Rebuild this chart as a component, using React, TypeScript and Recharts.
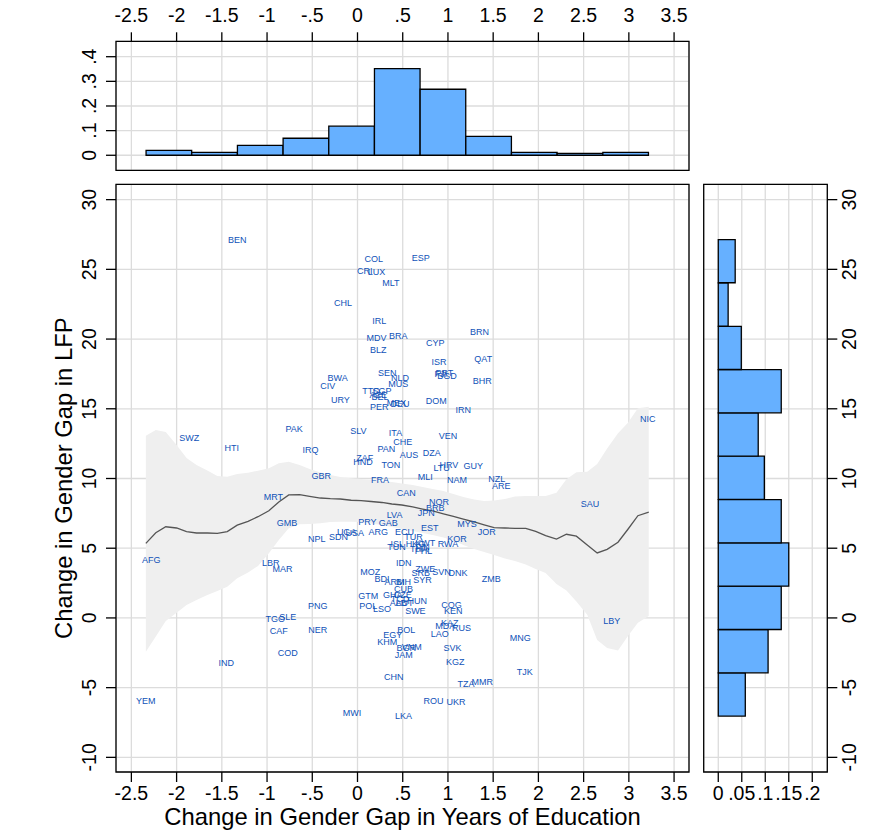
import React from "react";
import {
  ComposedChart, XAxis, YAxis, CartesianGrid, Bar, Area, Line, Scatter, ReferenceArea,
} from "recharts";

const W = 893;
const H = 838;
const FONT = "'Liberation Sans', Arial, sans-serif";
const GRID = "#dcdcdc";
const BAR = "#66b0ff";
const LABEL = "#0f52b8";

const xTicks = [-2.5, -2, -1.5, -1, -0.5, 0, 0.5, 1, 1.5, 2, 2.5, 3, 3.5];
const lfpTicks = [-10, -5, 0, 5, 10, 15, 20, 25, 30];
const topDensityTicks = [0, 0.1, 0.2, 0.3, 0.4];
const rightDensityTicks = [0, 0.05, 0.1, 0.15, 0.2];

const topBinCenters = [-2.085, -1.58, -1.075, -0.57, -0.065, 0.44, 0.945, 1.45, 1.955, 2.46, 2.965];
const topDensity = [0.02, 0.012, 0.04, 0.069, 0.118, 0.352, 0.268, 0.077, 0.012, 0.008, 0.012];

const rightBinCenters = [-5.495, -2.39, 0.715, 3.825, 6.935, 10.045, 13.15, 16.255, 19.365, 22.475, 25.585];
const rightDensity = [0.0575, 0.106, 0.134, 0.15, 0.134, 0.098, 0.085, 0.134, 0.049, 0.021, 0.036];

const smoothX = [-2.34, -2.23, -2.12, -2.0, -1.89, -1.78, -1.66, -1.55, -1.44, -1.33, -1.21, -1.1, -0.98, -0.87, -0.76, -0.64, -0.53, -0.41, -0.3, -0.19, -0.07, 0.04, 0.15, 0.27, 0.38, 0.49, 0.61, 0.72, 0.83, 0.95, 1.06, 1.17, 1.29, 1.4, 1.51, 1.63, 1.74, 1.86, 1.97, 2.08, 2.2, 2.31, 2.42, 2.54, 2.65, 2.76, 2.88, 2.99, 3.1, 3.22];
const smoothMean = [5.35, 6.11, 6.54, 6.45, 6.19, 6.09, 6.09, 6.07, 6.19, 6.65, 6.93, 7.26, 7.69, 8.32, 8.82, 8.84, 8.72, 8.6, 8.55, 8.53, 8.44, 8.42, 8.35, 8.28, 8.17, 8.1, 7.96, 7.81, 7.67, 7.46, 7.28, 7.08, 6.88, 6.67, 6.47, 6.45, 6.43, 6.42, 6.2, 5.91, 5.66, 6.0, 5.86, 5.23, 4.66, 4.92, 5.43, 6.36, 7.33, 7.58];
const smoothHigh = [13.07, 13.48, 13.33, 12.4, 11.47, 10.97, 10.57, 10.18, 10.13, 10.32, 10.42, 10.56, 10.73, 11.09, 11.2, 10.97, 10.68, 10.43, 10.25, 10.11, 10.01, 9.96, 9.89, 9.82, 9.75, 9.64, 9.53, 9.39, 9.25, 9.1, 8.89, 8.67, 8.49, 8.39, 8.42, 8.53, 8.71, 8.75, 8.75, 8.75, 8.98, 9.94, 10.44, 10.49, 11.04, 12.16, 13.24, 14.0, 15.03, 15.15];
const smoothLow = [-2.42, -1.34, -0.22, 0.38, 0.93, 1.29, 1.65, 1.94, 2.24, 2.85, 3.25, 3.73, 4.64, 5.59, 6.43, 6.72, 6.74, 6.79, 6.88, 6.9, 6.9, 6.88, 6.77, 6.67, 6.52, 6.38, 6.24, 6.09, 5.95, 5.77, 5.56, 5.23, 4.95, 4.73, 4.52, 4.27, 4.09, 3.84, 3.51, 3.23, 2.44, 1.97, 1.18, 0.22, -1.58, -2.15, -2.34, -1.29, -0.34, 0.14];

const countries: [string, number, number][] = [
  ["BEN", -1.33, 27.1], ["COL", 0.18, 25.71], ["ESP", 0.7, 25.78], ["CRI", 0.08, 24.85], ["LUX", 0.21, 24.78],
  ["MLT", 0.37, 23.99], ["CHL", -0.16, 22.56], ["IRL", 0.24, 21.27], ["BRN", 1.35, 20.48], ["MDV", 0.21, 20.05],
  ["BRA", 0.45, 20.19], ["CYP", 0.86, 19.69], ["BLZ", 0.23, 19.19], ["ISR", 0.9, 18.33], ["QAT", 1.39, 18.54],
  ["SEN", 0.33, 17.54], ["NLD", 0.47, 17.23], ["BWA", -0.22, 17.18], ["PRT", 0.96, 17.54], ["FJI", 0.92, 17.53],
  ["BGD", 0.99, 17.37], ["CIV", -0.33, 16.61], ["MUS", 0.45, 16.75], ["BHR", 1.38, 16.97], ["TTO", 0.15, 16.25],
  ["SGP", 0.27, 16.25], ["AZE", 0.23, 15.98], ["BEL", 0.25, 15.82], ["URY", -0.19, 15.61], ["MEX", 0.43, 15.41],
  ["DEU", 0.47, 15.32], ["DOM", 0.87, 15.53], ["PER", 0.24, 15.1], ["IRN", 1.17, 14.89], ["SLV", 0.01, 13.38],
  ["ITA", 0.42, 13.24], ["VEN", 1.0, 13.03], ["CHE", 0.5, 12.59], ["PAN", 0.32, 12.14], ["AUS", 0.57, 11.66],
  ["DZA", 0.82, 11.81], ["ZAF", 0.08, 11.49], ["HND", 0.06, 11.2], ["TON", 0.37, 10.95], ["HRV", 1.01, 10.99],
  ["LTU", 0.93, 10.77], ["GUY", 1.28, 10.87], ["MLI", 0.75, 10.13], ["FRA", 0.25, 9.87], ["NAM", 1.1, 9.87],
  ["NZL", 1.54, 9.99], ["ARE", 1.59, 9.48], ["CAN", 0.54, 8.94], ["NOR", 0.9, 8.29], ["BRB", 0.86, 7.91],
  ["JPN", 0.76, 7.55], ["LVA", 0.41, 7.41], ["MYS", 1.21, 6.72], ["PRY", 0.11, 6.86], ["GAB", 0.34, 6.79],
  ["EST", 0.8, 6.43], ["ECU", 0.52, 6.19], ["ARG", 0.23, 6.14], ["JOR", 1.43, 6.14], ["UGA", -0.12, 6.13],
  ["USA", -0.03, 6.09], ["SDN", -0.21, 5.78], ["TUR", 0.62, 5.83], ["KOR", 1.1, 5.64], ["ISL", 0.44, 5.3],
  ["TUN", 0.43, 5.11], ["KWT", 0.75, 5.4], ["HKG", 0.64, 5.3], ["FIN", 0.72, 5.07], ["PHL", 0.73, 4.82],
  ["THA", 0.68, 4.91], ["RWA", 1.0, 5.28], ["NPL", -0.45, 5.64], ["GMB", -0.78, 6.79], ["MRT", -0.93, 8.65],
  ["GBR", -0.4, 10.16], ["IRQ", -0.52, 12.06], ["PAK", -0.7, 13.53], ["HTI", -1.39, 12.16], ["SWZ", -1.86, 12.88],
  ["AFG", -2.28, 4.14], ["LBR", -0.96, 3.92], ["MAR", -0.83, 3.49], ["PNG", -0.44, 0.84], ["TGO", -0.91, -0.09],
  ["SLE", -0.77, 0.05], ["CAF", -0.87, -0.95], ["NER", -0.44, -0.88], ["COD", -0.77, -2.53], ["IND", -1.45, -3.25],
  ["YEM", -2.34, -5.97], ["IDN", 0.51, 3.92], ["ZWE", 0.75, 3.51], ["SRB", 0.7, 3.25], ["SVN", 0.93, 3.3],
  ["DNK", 1.11, 3.25], ["MOZ", 0.14, 3.32], ["ZMB", 1.48, 2.77], ["BDI", 0.27, 2.77], ["ARM", 0.41, 2.56],
  ["BIH", 0.51, 2.58], ["SYR", 0.72, 2.7], ["CUB", 0.51, 2.1], ["GTM", 0.12, 1.56], ["GHA", 0.39, 1.63],
  ["CZE", 0.5, 1.63], ["COG", 1.04, 0.95], ["HUN", 0.66, 1.2], ["ALB", 0.45, 1.05], ["AUT", 0.52, 1.1],
  ["TCD", 0.47, 1.36], ["POL", 0.12, 0.84], ["LSO", 0.27, 0.67], ["KEN", 1.06, 0.52], ["SWE", 0.64, 0.48],
  ["KAZ", 1.02, -0.38], ["MDA", 0.97, -0.55], ["RUS", 1.15, -0.74], ["BOL", 0.54, -0.88], ["EGY", 0.39, -1.2],
  ["LAO", 0.91, -1.15], ["KHM", 0.33, -1.7], ["VNM", 0.6, -2.06], ["BGR", 0.54, -2.17], ["MNG", 1.8, -1.46],
  ["SVK", 1.05, -2.17], ["JAM", 0.51, -2.63], ["KGZ", 1.08, -3.18], ["TJK", 1.85, -3.89], ["CHN", 0.4, -4.23],
  ["MMR", 1.38, -4.61], ["TZA", 1.2, -4.75], ["ROU", 0.84, -5.97], ["UKR", 1.09, -6.04], ["MWI", -0.06, -6.83],
  ["LKA", 0.51, -7.05], ["NIC", 3.21, 14.24], ["SAU", 2.57, 8.15], ["LBY", 2.81, -0.24],
];

const xDomain: [number, number] = [-2.67, 3.665];
const lfpDomain: [number, number] = [-11.05, 31.1];
const topDomain: [number, number] = [-0.061, 0.4625];
const rightDomain: [number, number] = [-0.031, 0.232];

const fmt = (v: number) => {
  if (v === 0) return "0";
  const s = String(Math.abs(v)).replace(/^0\./, ".");
  return (v < 0 ? "-" : "") + s;
};

const TICK_FONT = 19.5;

const HTick = ({ x, y, payload, dy }: any) => (
  <text x={x} y={y + dy} textAnchor="middle" fontFamily={FONT} fontSize={TICK_FONT} fill="#000">
    {fmt(payload.value)}
  </text>
);
const VTick = ({ x, y, payload, dx }: any) => (
  <text
    transform={`translate(${x + dx},${y}) rotate(-90)`}
    textAnchor="middle"
    fontFamily={FONT}
    fontSize={TICK_FONT}
    fill="#000"
  >
    {fmt(payload.value)}
  </text>
);
const CountryLabel = ({ cx, cy, payload }: any) => (
  <text x={cx} y={cy + 3} textAnchor="middle" fontFamily={FONT} fontSize={9} fill={LABEL}>
    {payload.code}
  </text>
);

const topRows = topBinCenters.map((x, i) => ({ x, d: topDensity[i] }));
const rightRows = rightBinCenters.map((y, i) => ({ y, d: rightDensity[i] }));
const smoothRows = smoothX.map((x, i) => ({
  x,
  mean: smoothMean[i],
  band: [smoothLow[i], smoothHigh[i]] as [number, number],
}));
const pointRows = countries.map(([code, x, y]) => ({ code, x, y }));

const layer: React.CSSProperties = { position: "absolute", left: 0, top: 0 };
const axisLine = { stroke: "#000", strokeWidth: 1.3 };
const gridProps = { stroke: GRID, strokeWidth: 1.3 };

export default function App() {
  return (
    <div style={{ position: "absolute", left: 0, top: 0, width: W, height: H, background: "#fff" }}>
      {/* top histogram */}
      <div style={layer}>
        <ComposedChart
          width={W}
          height={H}
          data={topRows}
          margin={{ left: 46, right: W - 689, top: 1.3, bottom: H - 170.3 }}
        >
          <CartesianGrid {...gridProps} />
          <XAxis
            xAxisId={0}
            orientation="top"
            type="number"
            dataKey="x"
            domain={xDomain}
            ticks={xTicks}
            interval={0}
            allowDataOverflow
            height={40}
            tickSize={9}
            tickLine={axisLine}
            axisLine={false}
            tick={<HTick dy={-8} />}
          />
          <YAxis
            type="number"
            domain={topDomain}
            ticks={topDensityTicks}
            interval={0}
            allowDataOverflow
            width={70}
            tickSize={10}
            tickLine={axisLine}
            axisLine={false}
            tick={<VTick dx={-8} />}
          />
          <Bar dataKey="d" fill={BAR} stroke="#000" strokeWidth={1.3} barSize={45.6} isAnimationActive={false} />
          <ReferenceArea x1={xDomain[0]} x2={xDomain[1]} y1={topDomain[0]} y2={topDomain[1]} fill="none" stroke="#000" strokeWidth={1.3} />
        </ComposedChart>
      </div>

      {/* main scatter */}
      <div style={layer}>
        <ComposedChart
          width={W}
          height={H}
          data={smoothRows}
          margin={{ left: 46, right: W - 689, top: 184.3, bottom: 0 }}
        >
          <CartesianGrid {...gridProps} />
          <XAxis
            type="number"
            dataKey="x"
            domain={xDomain}
            ticks={xTicks}
            interval={0}
            allowDataOverflow
            height={H - 772}
            tickSize={10}
            tickLine={axisLine}
            axisLine={false}
            tick={<HTick dy={15.5} />}
            label={{
              value: "Change in Gender Gap in Years of Education",
              position: "insideBottom",
              offset: 13,
              fontFamily: FONT,
              fontSize: 23.8,
              fill: "#000",
            }}
          />
          <YAxis
            type="number"
            dataKey="y"
            domain={lfpDomain}
            ticks={lfpTicks}
            interval={0}
            allowDataOverflow
            width={70}
            tickSize={10}
            tickLine={axisLine}
            axisLine={false}
            tick={<VTick dx={-8} />}
            label={{
              value: "Change in Gender Gap in LFP",
              angle: -90,
              position: "insideLeft",
              offset: 18,
              fontFamily: FONT,
              fontSize: 23.8,
              fill: "#000",
              style: { textAnchor: "middle" },
            }}
          />
          <Area dataKey="band" stroke="none" fill="#efefef" fillOpacity={1} dot={false} activeDot={false} isAnimationActive={false} />
          <Line dataKey="mean" stroke="#555555" strokeWidth={1.3} dot={false} activeDot={false} isAnimationActive={false} />
          <Scatter data={pointRows} dataKey="y" shape={<CountryLabel />} isAnimationActive={false} />
          <ReferenceArea x1={xDomain[0]} x2={xDomain[1]} y1={lfpDomain[0]} y2={lfpDomain[1]} fill="none" stroke="#000" strokeWidth={1.3} />
        </ComposedChart>
      </div>

      {/* right histogram */}
      <div style={layer}>
        <ComposedChart
          layout="vertical"
          width={W}
          height={H}
          data={rightRows}
          margin={{ left: 703.7, right: 0, top: 184.3, bottom: 0 }}
        >
          <CartesianGrid {...gridProps} />
          <XAxis
            type="number"
            domain={rightDomain}
            ticks={rightDensityTicks}
            interval={0}
            allowDataOverflow
            height={H - 772}
            tickSize={10}
            tickLine={axisLine}
            axisLine={false}
            tick={<HTick dy={15.5} />}
          />
          <YAxis
            orientation="right"
            type="number"
            dataKey="y"
            reversed
            domain={lfpDomain}
            ticks={lfpTicks}
            interval={0}
            allowDataOverflow
            width={W - 827.3}
            tickSize={10}
            tickLine={axisLine}
            axisLine={false}
            tick={<VTick dx={16.4} />}
          />
          <Bar dataKey="d" fill={BAR} stroke="#000" strokeWidth={1.3} barSize={43.2} isAnimationActive={false} />
          <ReferenceArea x1={rightDomain[0]} x2={rightDomain[1]} y1={lfpDomain[0]} y2={lfpDomain[1]} fill="none" stroke="#000" strokeWidth={1.3} />
        </ComposedChart>
      </div>
    </div>
  );
}
